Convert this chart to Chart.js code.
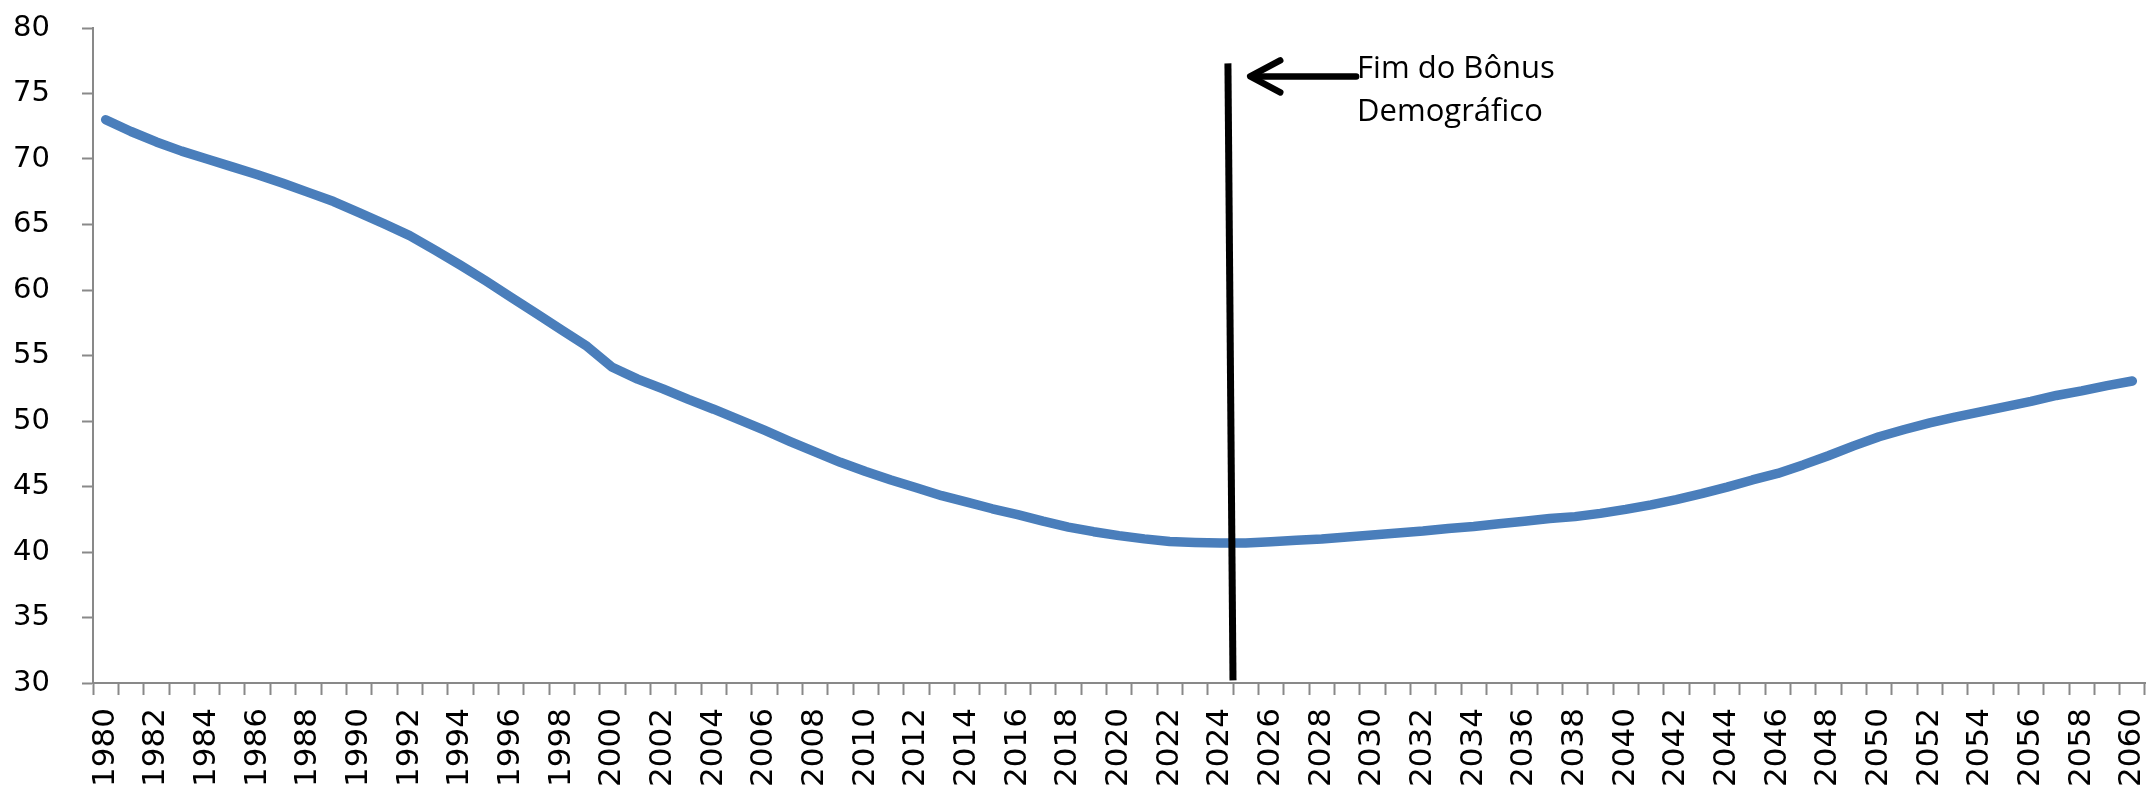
<!DOCTYPE html>
<html>
  <head>
    <meta charset='utf-8'>
    <title>Razão de dependência - Fim do Bônus Demográfico</title>

    <style>
      html, body {
        margin: 0;
        padding: 0;
        background: #fff;
      }
    </style>
    <script src='https://cdn.jsdelivr.net/npm/chart.js@4.4.1/dist/chart.umd.min.js'></script>
  </head>
  <body>
    <canvas id='chart' width='2146' height='786'></canvas>

    <script>
    var years = [
      '1980', '1981', '1982', '1983', '1984', '1985', '1986', '1987', '1988', '1989',
      '1990', '1991', '1992', '1993', '1994', '1995', '1996', '1997', '1998', '1999',
      '2000', '2001', '2002', '2003', '2004', '2005', '2006', '2007', '2008', '2009',
      '2010', '2011', '2012', '2013', '2014', '2015', '2016', '2017', '2018', '2019',
      '2020', '2021', '2022', '2023', '2024', '2025', '2026', '2027', '2028', '2029',
      '2030', '2031', '2032', '2033', '2034', '2035', '2036', '2037', '2038', '2039',
      '2040', '2041', '2042', '2043', '2044', '2045', '2046', '2047', '2048', '2049',
      '2050', '2051', '2052', '2053', '2054', '2055', '2056', '2057', '2058', '2059',
      '2060'
    ];

    var ratio = [
      73.0, 72.1, 71.3, 70.6, 70.0, 69.4, 68.8, 68.15, 67.45, 66.75,
      65.9, 65.05, 64.15, 63.05, 61.9, 60.7, 59.45, 58.2, 56.95, 55.7,
      54.1, 53.2, 52.45, 51.65, 50.9, 50.1, 49.3, 48.45, 47.65, 46.85,
      46.15, 45.5, 44.9, 44.3, 43.8, 43.3, 42.85, 42.35, 41.9, 41.55,
      41.25, 41.0, 40.8, 40.72, 40.68, 40.68, 40.78, 40.9, 41.0, 41.15,
      41.3, 41.45, 41.6, 41.8, 41.95, 42.15, 42.35, 42.55, 42.7, 42.95,
      43.25, 43.6, 44.0, 44.45, 44.95, 45.5, 46.0, 46.65, 47.35, 48.1,
      48.8, 49.35, 49.85, 50.3, 50.7, 51.1, 51.5, 51.95, 52.3, 52.7,
      53.05
    ];

    var yMin = 30;
    var yMax = 80;
    var yStep = 5;

    // marker for the end of the demographic bonus, in axis units (category index, value)
    var bonusLine = { top: [44.3, 77.3], bottom: [44.5, 30.2] };
    var bonusArrow = { tip: [45.18, 76.3], tail: [49.36, 76.3] };
    var bonusText = ['Fim do Bônus', 'Demográfico'];

    var axisGrey = '#898989';

    var bonusPlugin = {
      id: 'bonusMarker',
      afterDatasetsDraw: function (chart) {
        var ctx = chart.ctx;
        var x = chart.scales.x;
        var y = chart.scales.y;
        var px = function (p) { return [x.getPixelForValue(p[0]), y.getPixelForValue(p[1])]; };

        var top = px(bonusLine.top);
        var bottom = px(bonusLine.bottom);
        var tip = px(bonusArrow.tip);
        var tail = px(bonusArrow.tail);

        ctx.save();
        ctx.strokeStyle = '#000';
        ctx.fillStyle = '#000';

        ctx.lineWidth = 7;
        ctx.lineCap = 'butt';
        ctx.beginPath();
        ctx.moveTo(top[0], top[1]);
        ctx.lineTo(bottom[0], bottom[1]);
        ctx.stroke();

        ctx.lineWidth = 6.5;
        ctx.lineCap = 'round';
        ctx.lineJoin = 'round';
        ctx.beginPath();
        ctx.moveTo(tail[0], tail[1]);
        ctx.lineTo(tip[0] + 2, tip[1]);
        ctx.stroke();
        ctx.beginPath();
        ctx.moveTo(tip[0] + 30, tip[1] - 16);
        ctx.lineTo(tip[0], tip[1]);
        ctx.lineTo(tip[0] + 30, tip[1] + 16);
        ctx.stroke();

        ctx.font = '31px "Open Sans"';
        ctx.textAlign = 'left';
        ctx.textBaseline = 'alphabetic';
        ctx.fillText(bonusText[0], tail[0] + 1, tip[1] + 2);
        ctx.fillText(bonusText[1], tail[0] + 1, tip[1] + 45);
        ctx.restore();
      }
    };

    Chart.defaults.font.family = 'DejaVu Sans';
    Chart.defaults.color = '#000';

    var chart = new Chart(document.getElementById('chart').getContext('2d'), {
      type: 'line',
      data: {
        labels: years,
        datasets: [{
          data: ratio,
          borderColor: '#4a7ebb',
          borderWidth: 9.5,
          borderCapStyle: 'round',
          borderJoinStyle: 'round',
          pointRadius: 0,
          tension: 0,
          fill: false
        }]
      },
      options: {
        responsive: false,
        animation: false,
        devicePixelRatio: 1,
        layout: {
          padding: { top: 28, right: 1, bottom: 0, left: 0 }
        },
        plugins: {
          legend: { display: false },
          tooltip: { enabled: false }
        },
        scales: {
          x: {
            offset: true,
            grid: {
              offset: true,
              drawOnChartArea: false,
              tickLength: 12,
              tickWidth: 2,
              tickColor: axisGrey
            },
            border: { color: axisGrey, width: 2 },
            ticks: {
              autoSkip: false,
              maxRotation: 90,
              minRotation: 90,
              padding: 13,
              font: { size: 31 },
              callback: function (value, index) {
                return index % 2 === 0 ? this.getLabelForValue(value) : '';
              }
            },
            afterFit: function (scale) {
              scale.height = 103;
              scale.paddingLeft = 0;
              scale.paddingRight = 0;
            }
          },
          y: {
            min: yMin,
            max: yMax,
            grid: {
              drawOnChartArea: false,
              tickLength: 11,
              tickWidth: 2,
              tickColor: axisGrey
            },
            border: { color: axisGrey, width: 2 },
            ticks: {
              stepSize: yStep,
              padding: 32,
              font: { size: 29 }
            },
            afterFit: function (scale) {
              scale.width = 93;
              scale.paddingTop = 0;
              scale.paddingBottom = 0;
            }
          }
        }
      },
      plugins: [bonusPlugin]
    });
    </script>
  </body>
</html>
